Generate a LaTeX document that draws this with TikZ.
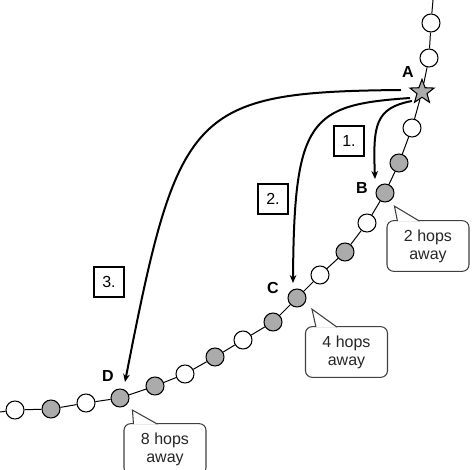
\documentclass[tikz,border=0pt]{standalone}
\usepackage{fontspec}
\setmainfont{Liberation Sans}
\usetikzlibrary{shapes.geometric,arrows.meta}

\tikzset{
  hop/.style={circle, draw, line width=0.8pt, minimum size=13.5pt, inner sep=0pt, fill=white},
  hopw/.style={hop},
  hopg/.style={hop, fill=black!33},
  hopstar/.style={star, star points=5, star point ratio=2.4, draw, line width=0.8pt,
    fill=black!33, minimum size=19pt, inner sep=0pt},
  chain/.style={line width=0.75pt},
  jump/.style={line width=1.5pt, -{Stealth[length=6pt,width=5pt]}},
  stepno/.style={draw, line width=1.3pt, minimum size=22pt, inner sep=0pt,
    font=\fontsize{12}{14}\selectfont},
  tag/.style={font=\fontsize{12}{14}\selectfont\bfseries},
  bubble/.style={draw=black!75, line width=0.8pt, rounded corners=5pt, fill=white,
    align=center, minimum width=61.5pt, minimum height=38pt, inner sep=0pt,
    font=\fontsize{12}{13.5}\selectfont, text=black!85},
  bubtip/.style={draw=black!75, line width=0.8pt, fill=white}
}

\begin{document}
\begin{tikzpicture}[x=0.75pt, y=-0.75pt]
  \useasboundingbox (0,0) rectangle (472,470);

  % Knoten der Kette
  \foreach \s/\x/\y [count=\i] in {hopw/431/23, hopw/429/58, hopstar/422/92,
      hopw/412/128, hopg/399/163, hopg/385/193, hopw/367/223, hopg/345/252,
      hopw/320/275, hopg/297/298, hopg/273/322, hopw/243/340, hopg/215/357,
      hopw/185/374, hopg/155/386, hopg/120/398, hopw/86/403, hopg/51/409, hopw/15/410}
    \node[\s] (n\i) at (\x,\y) {};

  % Verbindungen
  \coordinate (top) at (433,0);
  \coordinate (end) at (0,412);
  \draw[chain] (top) -- (n1);
  \foreach \i [evaluate=\i as \j using int(\i+1)] in {1,...,18}
    \draw[chain] (n\i) -- (n\j);
  \draw[chain] (n19) -- (end);

  % Beschriftung
  \node[tag] (la) at (408,72) {A};
  \node[tag] (lb) at (362,188) {B};
  \node[tag] (lc) at (273,288) {C};
  \node[tag] (ld) at (108,376) {D};

  % Spruenge
  \draw[jump] ([shift={(-10,9)}]n3.center) .. controls (375,108) and (373,125) .. ([shift={(-10,-14)}]n6.center);
  \draw[jump] ([shift={(-12,6)}]n3.center) .. controls (310,105) and (294,118) .. ([shift={(-4,-15)}]n10.center);
  \draw[jump] ([shift={(-21,-2)}]n3.center) .. controls (190,92) and (178,110) .. ([shift={(5,-16)}]n16.center);

  \node[stepno] (s1) at (349,141) {1.};
  \node[stepno] (s2) at (273,199) {2.};
  \node[stepno] (s3) at (109,282) {3.};

  % Sprechblasen
  \node[bubble] (c2) at (428,246) {2 hops\\away};
  \path[bubtip] ([shift={(11,1)}]c2.north west) -- ([shift={(8,-14)}]c2.north west) -- ([shift={(33,1)}]c2.north west);

  \node[bubble] (c4) at (346.5,352) {4 hops\\away};
  \path[bubtip] ([shift={(11,1)}]c4.north west) -- ([shift={(7,-17)}]c4.north west) -- ([shift={(32,1)}]c4.north west);

  \node[bubble] (c8) at (165,449) {8 hops\\away};
  \path[bubtip] ([shift={(10,1)}]c8.north west) -- ([shift={(9,-13)}]c8.north west) -- ([shift={(34,1)}]c8.north west);
\end{tikzpicture}
\end{document}
